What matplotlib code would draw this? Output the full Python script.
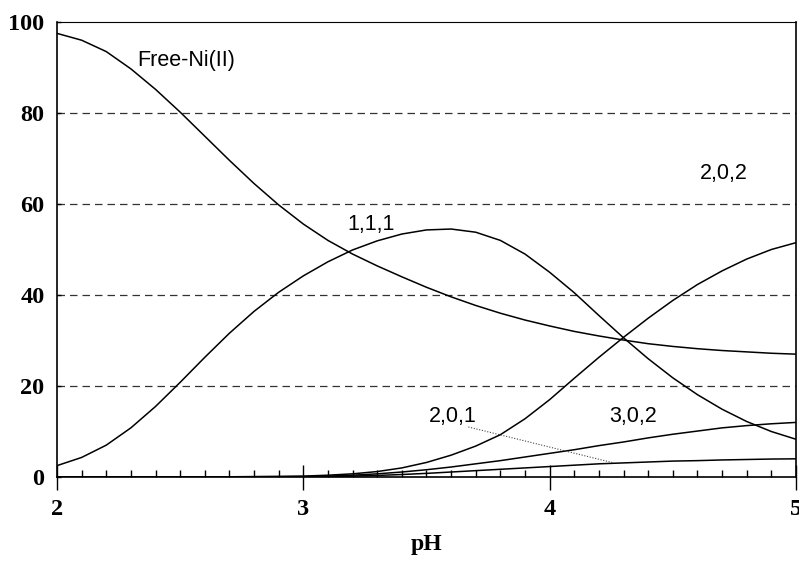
import numpy as np
import matplotlib.pyplot as plt
from matplotlib.ticker import MultipleLocator

# pH values (step 0.1)
ph = [2.0, 2.1, 2.2, 2.3, 2.4, 2.5, 2.6, 2.7, 2.8, 2.9,
      3.0, 3.1, 3.2, 3.3, 3.4, 3.5, 3.6, 3.7, 3.8, 3.9,
      4.0, 4.1, 4.2, 4.3, 4.4, 4.5, 4.6, 4.7, 4.8, 4.9, 5.0]

free_ni = [97.5, 96.0, 93.5, 89.7, 85.2, 80.2, 74.9, 69.6, 64.5, 59.8,
           55.6, 52.0, 49.0, 46.4, 44.0, 41.7, 39.6, 37.7, 36.0, 34.5,
           33.2, 32.0, 31.0, 30.1, 29.3, 28.7, 28.2, 27.8, 27.5, 27.2, 27.0]

c111 = [2.5, 4.3, 7.0, 10.8, 15.5, 20.8, 26.3, 31.6, 36.4, 40.6,
        44.2, 47.3, 49.9, 51.9, 53.4, 54.3, 54.5, 53.8, 52.0, 49.0,
        45.0, 40.5, 35.5, 30.6, 26.0, 21.8, 18.1, 14.9, 12.2, 10.0, 8.3]

c202 = [0, 0, 0, 0, 0, 0, 0, 0.05, 0.1, 0.15,
        0.2, 0.4, 0.7, 1.2, 2.0, 3.2, 4.8, 6.8, 9.3, 12.8,
        17.0, 21.7, 26.3, 30.7, 34.9, 38.8, 42.3, 45.3, 47.9, 50.0, 51.5]

c302 = [0, 0, 0, 0, 0, 0, 0, 0, 0.02, 0.05,
        0.1, 0.2, 0.4, 0.7, 1.1, 1.6, 2.2, 2.9, 3.6, 4.4,
        5.2, 6.0, 6.9, 7.7, 8.6, 9.4, 10.1, 10.8, 11.3, 11.7, 12.0]

c201 = [0, 0, 0, 0, 0, 0, 0, 0, 0.01, 0.03,
        0.05, 0.1, 0.2, 0.35, 0.55, 0.8, 1.1, 1.4, 1.7, 2.0,
        2.3, 2.6, 2.9, 3.1, 3.3, 3.5, 3.6, 3.75, 3.85, 3.95, 4.0]

fig = plt.figure(figsize=(7.99, 5.61), dpi=100)
ax = fig.add_axes([0.0713, 0.1497, 0.9249, 0.8111])

for s in [free_ni, c111, c202, c302, c201]:
    ax.plot(ph, s, color="black", lw=1.1)

# dashed grid lines
for g in [20, 40, 60, 80]:
    ax.axhline(g, color="#333333", lw=0.9, ls=(0, (6, 4)), zorder=0)

ax.set_xlim(2, 5)
ax.set_ylim(0, 100)
ax.xaxis.set_major_locator(MultipleLocator(1))
ax.xaxis.set_minor_locator(MultipleLocator(0.1))
ax.yaxis.set_major_locator(MultipleLocator(20))

ax.tick_params(axis="x", which="major", direction="inout", length=18, width=1, pad=7)
ax.tick_params(axis="x", which="minor", direction="in", length=5, width=1)
ax.tick_params(axis="y", which="major", direction="in", length=3, width=1, pad=9)

for lab in ax.get_xticklabels() + ax.get_yticklabels():
    lab.set_fontfamily("Liberation Serif")
    lab.set_fontweight("bold")
    lab.set_fontsize(17.5)

for sp in ax.spines.values():
    sp.set_linewidth(1.2)
ax.spines["top"].set_linewidth(0.8)

ax.set_xlabel("pH", fontfamily="Liberation Serif", fontweight="bold", fontsize=17, labelpad=10)

# curve labels
lbl = dict(fontfamily="Liberation Sans", fontsize=15.5, va="center", ha="left")
ax.text(2.325, 91.6, "Free-Ni(II)", **lbl)
ax.text(3.18, 55.4, "1,1,1", **lbl)
ax.text(4.61, 66.6, "2,0,2", **lbl)
ax.text(3.51, 13.2, "2,0,1", **lbl)
ax.text(4.24, 13.2, "3,0,2", **lbl)

# dotted leader for 2,0,1
ax.plot([3.67, 4.26], [11.0, 3.1], color="#444444", lw=0.8, ls=(0, (1, 1.5)))

fig.savefig("out.png", dpi=100)
